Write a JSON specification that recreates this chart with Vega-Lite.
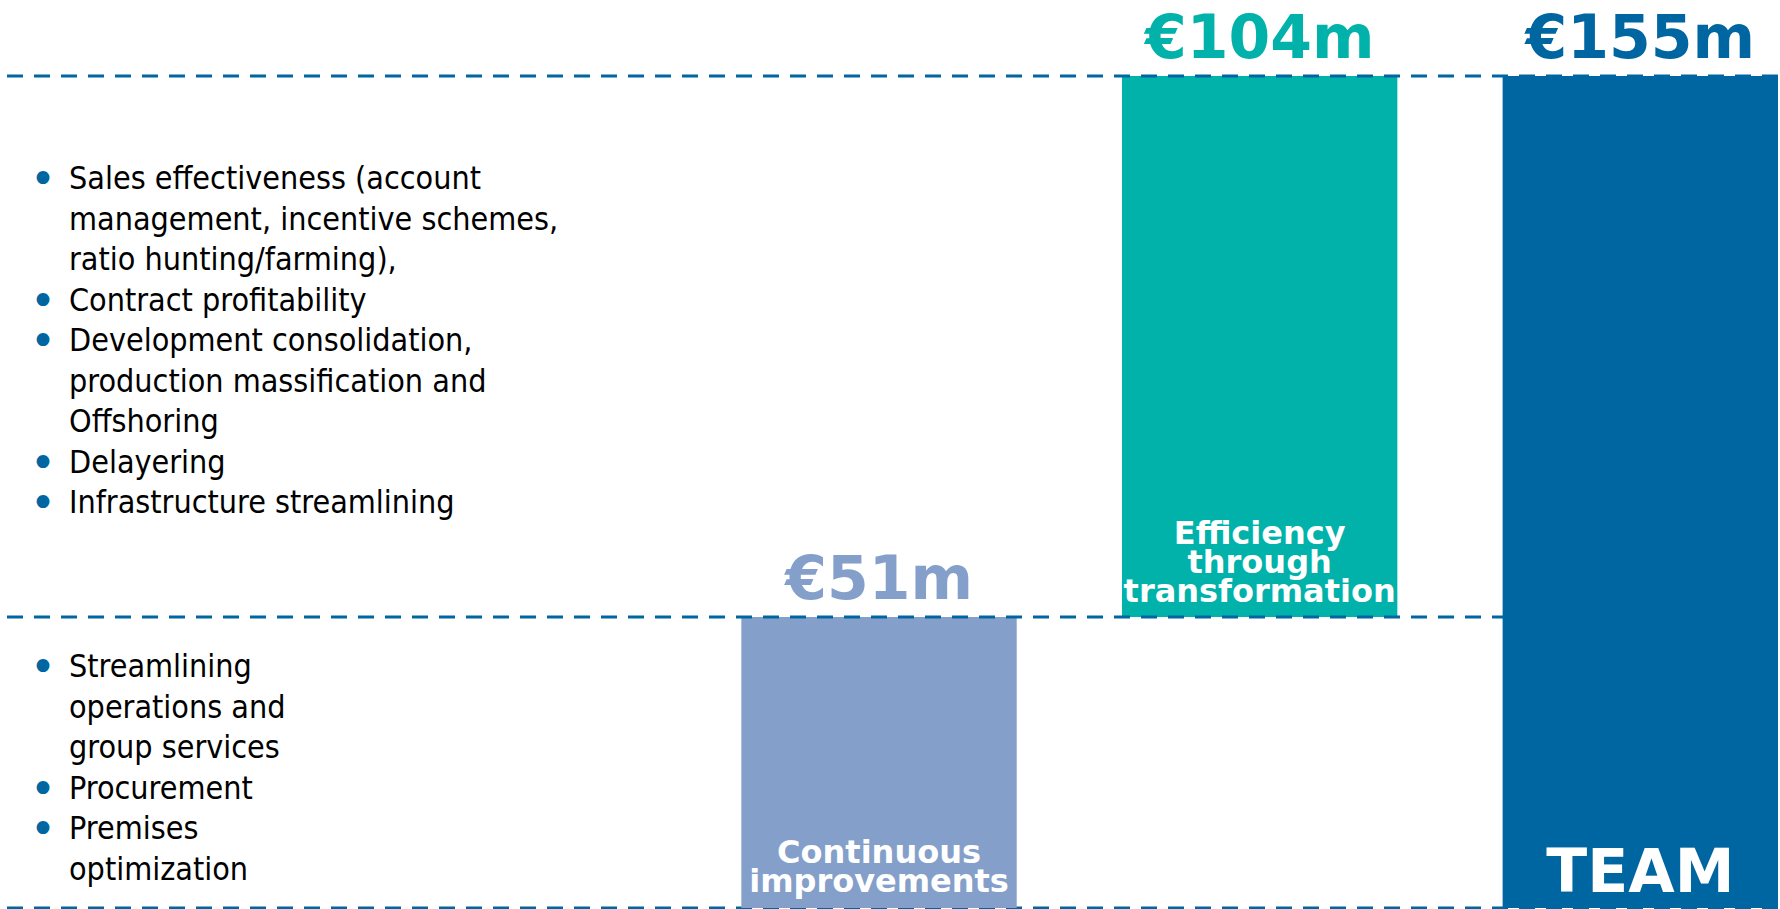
{
  "$schema": "https://vega.github.io/schema/vega-lite/v6.json",
  "width": 1780,
  "height": 909,
  "autosize": {"type": "fit", "contains": "padding"},
  "padding": 0,
  "background": "white",
  "config": {"view": {"stroke": null}},
  "datasets": {
    "steps": [
      {"step": "Continuous improvements", "start": 0, "end": 51, "amount": "€51m", "label": ["Continuous", "improvements"]},
      {"step": "Efficiency through transformation", "start": 51, "end": 155, "amount": "€104m", "label": ["Efficiency", "through", "transformation"]},
      {"step": "TEAM", "start": 0, "end": 155, "amount": "€155m", "label": ["TEAM"]}
    ],
    "levels": [{"level": 0}, {"level": 51}, {"level": 155}],
    "levers": [
      {"tier": "Efficiency through transformation", "from": 51, "to": 155,
       "lines": ["Sales effectiveness (account", "management, incentive schemes,", "ratio hunting/farming),", "Contract profitability", "Development consolidation,", "production massification and", "Offshoring", "Delayering", "Infrastructure streamlining"],
       "marks": ["•", "\u2800", "\u2800", "•", "•", "\u2800", "\u2800", "•", "•"]},
      {"tier": "Continuous improvements", "from": 0, "to": 51,
       "lines": ["Streamlining", "operations and", "group services", "Procurement", "Premises", "optimization"],
       "marks": ["•", "\u2800", "\u2800", "•", "•", "\u2800"]}
    ]
  },
  "layer": [
    {
      "data": {"name": "levels"},
      "transform": [{"filter": "datum.level == 0"}],
      "mark": {"type": "rule", "color": "#0066A1", "strokeWidth": 3, "strokeDash": [16, 11]},
      "encoding": {
        "y": {"field": "level", "type": "quantitative", "axis": null, "scale": {"domain": [0, 51, 155], "range": [908, 617, 76], "nice": false, "zero": false}}
      }
    },
    {
      "data": {"name": "steps"},
      "mark": {"type": "bar"},
      "encoding": {
        "x": {"field": "step", "type": "nominal", "axis": null, "sort": null, "scale": {"domain": ["Continuous improvements", "Efficiency through transformation", "TEAM"], "paddingInner": 0.27654, "paddingOuter": 0.97117, "align": 1}},
        "y": {"field": "end", "type": "quantitative", "axis": null, "scale": {"domain": [0, 51, 155], "range": [908, 617, 76], "nice": false, "zero": false}},
        "y2": {"field": "start"},
        "color": {"field": "step", "type": "nominal", "legend": null, "scale": {"domain": ["Continuous improvements", "Efficiency through transformation", "TEAM"], "range": ["#849FC9", "#00B2AA", "#0066A1"]}}
      }
    },
    {
      "data": {"name": "levels"},
      "transform": [{"filter": "datum.level > 0"}],
      "mark": {"type": "rule", "color": "#0066A1", "strokeWidth": 3, "strokeDash": [16, 11]},
      "encoding": {
        "y": {"field": "level", "type": "quantitative", "axis": null, "scale": {"domain": [0, 51, 155], "range": [908, 617, 76], "nice": false, "zero": false}}
      }
    },
    {
      "data": {"name": "steps"},
      "mark": {"type": "text", "font": "DejaVu Sans", "fontWeight": "bold", "fontSize": 60, "align": "center", "baseline": "alphabetic", "dy": -18},
      "encoding": {
        "x": {"field": "step", "type": "nominal", "axis": null, "sort": null, "scale": {"domain": ["Continuous improvements", "Efficiency through transformation", "TEAM"], "paddingInner": 0.27654, "paddingOuter": 0.97117, "align": 1}, "bandPosition": 0.5},
        "y": {"field": "end", "type": "quantitative", "axis": null, "scale": {"domain": [0, 51, 155], "range": [908, 617, 76], "nice": false, "zero": false}},
        "text": {"field": "amount", "type": "nominal"},
        "color": {"field": "step", "type": "nominal", "legend": null, "scale": {"domain": ["Continuous improvements", "Efficiency through transformation", "TEAM"], "range": ["#849FC9", "#00B2AA", "#0066A1"]}}
      }
    },
    {
      "data": {"name": "steps"},
      "transform": [{"filter": "datum.step == 'Continuous improvements'"}],
      "mark": {"type": "text", "font": "DejaVu Sans", "fontWeight": "bold", "fontSize": 32, "lineHeight": 29, "align": "center", "baseline": "alphabetic", "dy": -45, "color": "white"},
      "encoding": {
        "x": {"field": "step", "type": "nominal", "axis": null, "sort": null, "scale": {"domain": ["Continuous improvements", "Efficiency through transformation", "TEAM"], "paddingInner": 0.27654, "paddingOuter": 0.97117, "align": 1}, "bandPosition": 0.5},
        "y": {"field": "start", "type": "quantitative", "axis": null, "scale": {"domain": [0, 51, 155], "range": [908, 617, 76], "nice": false, "zero": false}},
        "text": {"field": "label", "type": "nominal"}
      }
    },
    {
      "data": {"name": "steps"},
      "transform": [{"filter": "datum.step == 'Efficiency through transformation'"}],
      "mark": {"type": "text", "font": "DejaVu Sans", "fontWeight": "bold", "fontSize": 32, "lineHeight": 29, "align": "center", "baseline": "alphabetic", "dy": -73, "color": "white"},
      "encoding": {
        "x": {"field": "step", "type": "nominal", "axis": null, "sort": null, "scale": {"domain": ["Continuous improvements", "Efficiency through transformation", "TEAM"], "paddingInner": 0.27654, "paddingOuter": 0.97117, "align": 1}, "bandPosition": 0.5},
        "y": {"field": "start", "type": "quantitative", "axis": null, "scale": {"domain": [0, 51, 155], "range": [908, 617, 76], "nice": false, "zero": false}},
        "text": {"field": "label", "type": "nominal"}
      }
    },
    {
      "data": {"name": "steps"},
      "transform": [{"filter": "datum.step == 'TEAM'"}],
      "mark": {"type": "text", "font": "DejaVu Sans", "fontWeight": "bold", "fontSize": 60, "align": "center", "baseline": "alphabetic", "dy": -16, "color": "white"},
      "encoding": {
        "x": {"field": "step", "type": "nominal", "axis": null, "sort": null, "scale": {"domain": ["Continuous improvements", "Efficiency through transformation", "TEAM"], "paddingInner": 0.27654, "paddingOuter": 0.97117, "align": 1}, "bandPosition": 0.5},
        "y": {"field": "start", "type": "quantitative", "axis": null, "scale": {"domain": [0, 51, 155], "range": [908, 617, 76], "nice": false, "zero": false}},
        "text": {"field": "label", "type": "nominal"}
      }
    },
    {
      "data": {"name": "levers"},
      "transform": [{"filter": "datum.tier == 'Efficiency through transformation'"}],
      "layer": [
        {
          "mark": {"type": "text", "font": "DejaVu Sans", "fontSize": 44, "lineHeight": 40.5, "align": "center", "baseline": "alphabetic", "dy": 118, "color": "#0066A1"},
          "encoding": {
            "x": {"value": 41},
            "y": {"field": "to", "type": "quantitative", "axis": null, "scale": {"domain": [0, 51, 155], "range": [908, 617, 76], "nice": false, "zero": false}},
            "text": {"field": "marks", "type": "nominal"}
          }
        },
        {
          "mark": {"type": "text", "font": "DejaVu Sans Condensed, DejaVu Sans", "fontSize": 32, "lineHeight": 40.5, "align": "left", "baseline": "alphabetic", "dy": 113, "color": "#000000"},
          "encoding": {
            "x": {"value": 67},
            "y": {"field": "to", "type": "quantitative", "axis": null, "scale": {"domain": [0, 51, 155], "range": [908, 617, 76], "nice": false, "zero": false}},
            "text": {"field": "lines", "type": "nominal"}
          }
        }
      ]
    },
    {
      "data": {"name": "levers"},
      "transform": [{"filter": "datum.tier == 'Continuous improvements'"}],
      "layer": [
        {
          "mark": {"type": "text", "font": "DejaVu Sans", "fontSize": 44, "lineHeight": 40.5, "align": "center", "baseline": "alphabetic", "dy": 65, "color": "#0066A1"},
          "encoding": {
            "x": {"value": 41},
            "y": {"field": "to", "type": "quantitative", "axis": null, "scale": {"domain": [0, 51, 155], "range": [908, 617, 76], "nice": false, "zero": false}},
            "text": {"field": "marks", "type": "nominal"}
          }
        },
        {
          "mark": {"type": "text", "font": "DejaVu Sans Condensed, DejaVu Sans", "fontSize": 32, "lineHeight": 40.5, "align": "left", "baseline": "alphabetic", "dy": 60, "color": "#000000"},
          "encoding": {
            "x": {"value": 67},
            "y": {"field": "to", "type": "quantitative", "axis": null, "scale": {"domain": [0, 51, 155], "range": [908, 617, 76], "nice": false, "zero": false}},
            "text": {"field": "lines", "type": "nominal"}
          }
        }
      ]
    }
  ]
}
